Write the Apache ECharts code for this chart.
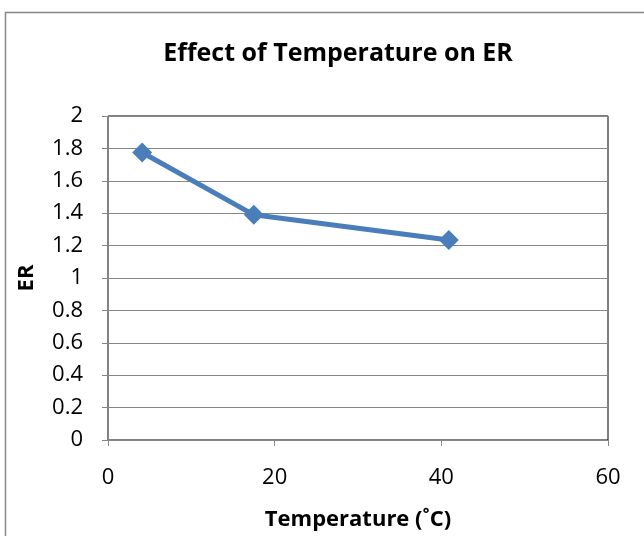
<!DOCTYPE html>
<html>
<head>
<meta charset="utf-8">
<script src="https://cdn.jsdelivr.net/npm/echarts@6/dist/echarts.min.js"></script>
<style>
  html, body { margin: 0; padding: 0; background: #fff; }
  #chart { width: 644px; height: 536px; }
</style>
</head>
<body>
<div id="chart"></div>
<script>
// Temperature (°C) and measured ER
const temperatures = [4.1, 17.5, 40.9];
const erValues = [1.775, 1.39, 1.235];
const xTicks = [0, 20, 40, 60];
const yTicks = [0, 0.2, 0.4, 0.6, 0.8, 1, 1.2, 1.4, 1.6, 1.8, 2];

const font = '"Open Sans", "Noto Sans", sans-serif';
const chart = echarts.init(document.getElementById('chart'));

chart.setOption({
  animation: false,
  backgroundColor: '#fff',
  graphic: [{
    type: 'rect',
    shape: { x: 5.5, y: 12.5, width: 700, height: 600 },
    style: { fill: 'none', stroke: '#868686', lineWidth: 1.5 },
    silent: true
  }],
  title: {
    text: 'Effect of Temperature on ER',
    left: 333, top: 36, textAlign: 'center',
    textStyle: { fontFamily: font, fontSize: 25, fontWeight: 'bold', color: '#000' }
  },
  grid: {
    left: 108, top: 116, right: 36, bottom: 94,
    show: true, borderColor: '#000', borderWidth: 1
  },
  xAxis: {
    type: 'value', min: 0, max: 60, interval: 20,
    name: 'Temperature (˚C)', nameLocation: 'middle', nameGap: 69,
    nameTextStyle: { fontFamily: font, fontSize: 22, fontWeight: 'bold', color: '#000' },
    axisLine: { show: true, lineStyle: { color: '#868686', width: 1 } },
    axisTick: { show: true, length: 6, lineStyle: { color: '#868686' } },
    axisLabel: {
      fontFamily: font, fontSize: 22, color: '#000', margin: 27,
      customValues: xTicks
    },
    splitLine: { show: false }
  },
  yAxis: {
    type: 'value', min: 0, max: 2, interval: 0.2,
    name: 'ER', nameLocation: 'middle', nameGap: 70, nameRotate: 90,
    nameTextStyle: { fontFamily: font, fontSize: 22, fontWeight: 'bold', color: '#000' },
    axisLine: { show: true, lineStyle: { color: '#868686', width: 1 } },
    axisTick: { show: true, length: 6, lineStyle: { color: '#868686' } },
    axisLabel: {
      fontFamily: font, fontSize: 22, color: '#000', margin: 25,
      formatter: v => String(parseFloat(v.toFixed(1)))
    },
    splitLine: { show: true, lineStyle: { color: '#868686', width: 1 } }
  },
  series: [{
    type: 'line',
    data: temperatures.map((t, i) => [t, erValues[i]]),
    lineStyle: { color: '#4a7ebb', width: 5 },
    itemStyle: { color: '#4a7ebb' },
    symbol: 'diamond',
    symbolSize: 20,
    z: 5
  }]
});
</script>
</body>
</html>
